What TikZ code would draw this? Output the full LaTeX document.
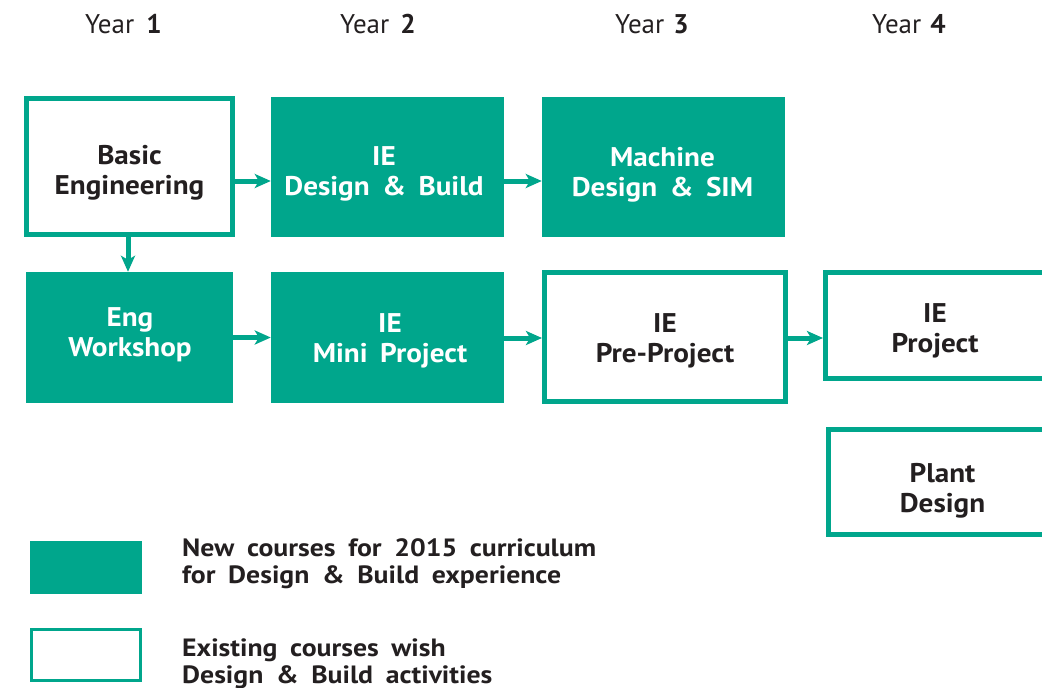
\documentclass[tikz,border=0pt]{standalone}
\usepackage{fontspec}
\setmainfont{PT Sans}
\newfontfamily\coursefont{PT Sans}[FakeStretch=1.08, WordSpace=1.7]
\newfontfamily\keyfont{PT Sans}[FakeStretch=1.11, WordSpace=1.8]
\usetikzlibrary{arrows.meta,calc}
\definecolor{ieteal}{RGB}{0,166,140}
\definecolor{ink}{RGB}{35,31,32}

\begin{document}
\begin{tikzpicture}[x=1pt,y=-1pt,
  newbox/.style={fill=ieteal, inner sep=0pt},
  oldbox/.style={draw=ieteal, line width=5pt, fill=white, inner sep=0pt},
  coursetext/.style={anchor=base, align=center, inner sep=0pt,
    font=\coursefont\fontsize{27}{30}\selectfont\bfseries},
  newtext/.style={coursetext, text=white},
  oldtext/.style={coursetext, text=ink},
  flow/.style={draw=ieteal, line width=5pt, -{Stealth[length=16pt,width=14pt,inset=4pt]}},
  yearlabel/.style={anchor=base west, inner sep=0pt, text=ink, font=\fontsize{27}{30}\selectfont},
  keytext/.style={anchor=base west, align=left, text=ink, inner sep=0pt,
    font=\keyfont\fontsize{25}{27}\selectfont\bfseries},
]
\useasboundingbox (0,0) rectangle (1042,688);
\clip (0,0) rectangle (1042,688);

% year headings
\node[yearlabel] (year1) at (85,33) {Year\hspace{12pt}\textbf{1}};
\node[yearlabel] (year2) at (340,33) {Year\hspace{11pt}\textbf{2}};
\node[yearlabel] (year3) at (615,33) {Year\hspace{9pt}\textbf{3}};
\node[yearlabel] (year4) at (872,33) {Year\hspace{9pt}\textbf{4}};

% course boxes, first row
\node[oldbox, minimum width=206pt, minimum height=136pt] (basic) at (129.5,166.5) {};
\node[newbox, minimum width=233pt, minimum height=140pt] (iedb) at (387.5,167) {};
\node[newbox, minimum width=243pt, minimum height=140pt] (mach) at (663.5,167) {};

% course boxes, second row
\node[newbox, minimum width=207pt, minimum height=131pt] (engw) at (129.5,337.5) {};
\node[newbox, minimum width=233pt, minimum height=131pt] (mini) at (387.5,337.5) {};
\node[oldbox, minimum width=241pt, minimum height=129pt] (pre) at (665,337) {};
\node[oldbox, minimum width=219pt, minimum height=106pt] (proj) at (935,325.5) {};

% course in year 4 without predecessor
\node[oldbox, minimum width=229pt, minimum height=105pt] (plant) at (943,482) {};

% course names (anchored on the baseline of the last line)
\node[oldtext] (basictext) at (129.5,194) {Basic\\Engineering};
\node[newtext] (iedbtext) at (384,195) {IE\\Design \& Build};
\node[newtext] (machtext) at (662.5,196) {Machine\\Design \& SIM};
\node[newtext] (engwtext) at (130,356) {Eng\\Workshop};
\node[newtext] (minitext) at (390,362) {IE\\Mini Project};
\node[oldtext] (pretext) at (665,362) {IE\\Pre-Project};
\node[oldtext] (projtext) at (935,352) {IE\\Project};
\node[oldtext] (planttext) at (942.5,512) {Plant\\Design};

% sequence arrows
\draw[flow] ($(basic.east)+(0,14.5)$) -- ($(iedb.west)+(0,14)$);
\draw[flow] ($(iedb.east)+(0,14)$) -- ($(mach.west)+(0,14)$);
\draw[flow] ($(basic.south)+(-1.5,0)$) -- ($(engw.north)+(-1.5,0)$);
\draw[flow] (engw.east) -- (mini.west);
\draw[flow] ($(mini.east)+(0,0.5)$) -- ($(pre.west)+(0,1)$);
\draw[flow] ($(pre.east)+(0,1)$) -- ($(proj.west)+(0,12.5)$);

% legend
\node[fill=ieteal, minimum width=112pt, minimum height=53pt, inner sep=0pt] (keynew) at (86,567.5) {};
\node[draw=ieteal, line width=3pt, minimum width=109pt, minimum height=51pt, inner sep=0pt] (keyold) at (86,655) {};
\node[keytext] (keynewtext) at (182,583) {New courses for 2015 curriculum\\for Design \& Build experience};
\node[keytext] (keyoldtext) at (182,683) {Existing courses wish\\Design \& Build activities};
\end{tikzpicture}
\end{document}
